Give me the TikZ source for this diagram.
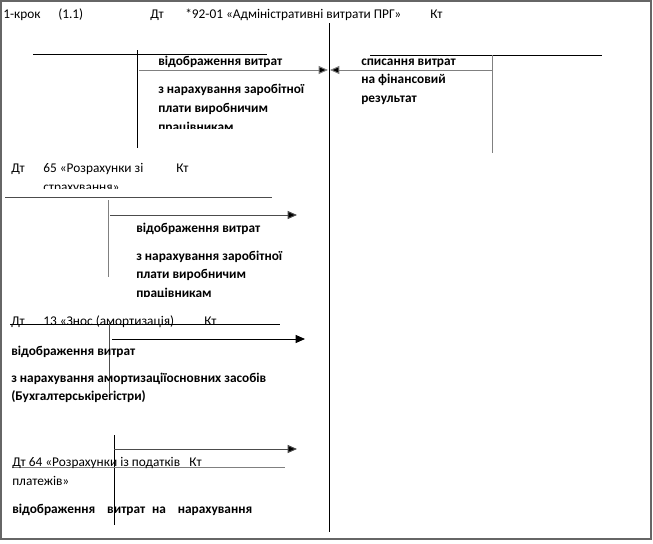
\documentclass[tikz,border=0pt]{standalone}
\usepackage{fontspec}
\setmainfont{Carlito}
\usetikzlibrary{arrows.meta}
\begin{document}
\begin{tikzpicture}[x=0.75pt,y=-0.75pt,
  txt/.style={anchor=base west,inner sep=0pt,font=\fontsize{10}{12}\selectfont},
  bold txt/.style={txt,font=\fontsize{10}{12}\selectfont\bfseries},
  acc line/.style={line width=0.75pt},
  grey line/.style={line width=0.75pt,draw=gray},
  flow/.style={line width=0.75pt,-{Triangle[length=7pt,width=6pt,fill=black]}}]
  \useasboundingbox (0,0) rectangle (653,543);
  \draw[gray!80!black,line width=1.5pt] (1,1) rectangle (651,539);

  % heading of account 92
  \node[txt] (step) at (3,18) {1-крок};
  \node[txt] (num) at (58,18) {(1.1)};
  \node[txt] (dt92) at (150,18) {Дт};
  \node[txt] (acc92) at (185,18) {*92-01 «Адміністративні витрати ПРГ»};
  \node[txt] (kt92) at (430,18) {Кт};
  \coordinate (top92) at (329,23);
  \coordinate (bot92) at (329,532);
  \draw[acc line] (top92) -- (bot92);

  % account on the left
  \coordinate (l1) at (33,54);  \coordinate (r1) at (267,54);
  \coordinate (t1) at (137,50); \coordinate (b1) at (137,148);
  \coordinate (a1) at (139,70); \coordinate (e1) at (328,70);
  \draw[acc line] (l1) -- (r1);
  \draw[acc line] (t1) -- (b1);
  \draw[flow,draw=gray] (a1) -- (e1);
  \node[bold txt] (zp1) at (158,65) {відображення витрат};
  \node[bold txt] (zp2) at (158,93) {з нарахування заробітної};
  \node[bold txt] (zp3) at (158,112) {плати виробничим};
  \begin{scope}
    \clip (150,115) rectangle (320,128);
    \node[bold txt] (zp4) at (158,131) {працівникам};
  \end{scope}

  % account on the right
  \coordinate (l2) at (370,55); \coordinate (r2) at (602,55);
  \coordinate (t2) at (492,55); \coordinate (b2) at (492,153);
  \coordinate (a2) at (493,70); \coordinate (e2) at (330,70);
  \draw[acc line] (l2) -- (r2);
  \draw[grey line] (t2) -- (b2);
  \draw[flow,draw=gray] (a2) -- (e2);
  \node[bold txt] (fr1) at (361,65) {списання витрат};
  \node[bold txt] (fr2) at (361,83) {на фінансовий};
  \node[bold txt] (fr3) at (361,102) {результат};

  % account 65
  \node[txt] (dt65) at (11,172) {Дт};
  \node[txt] (acc65) at (43,172) {65 «Розрахунки зі};
  \node[txt] (kt65) at (176,172) {Кт};
  \begin{scope}
    \clip (30,178) rectangle (200,188);
    \node[txt] (acc65b) at (43,191) {страхування»};
  \end{scope}
  \coordinate (l3) at (5,197);   \coordinate (r3) at (272,197);
  \coordinate (t3) at (108,200); \coordinate (b3) at (108,277);
  \coordinate (a3) at (110,215); \coordinate (e3) at (297,215);
  \draw[acc line,draw=gray!60!black] (l3) -- (r3);
  \draw[grey line] (t3) -- (b3);
  \draw[flow,draw=gray!60!black] (a3) -- (e3);
  \node[bold txt] (sz1) at (136,232) {відображення витрат};
  \node[bold txt] (sz2) at (136,260) {з нарахування заробітної};
  \node[bold txt] (sz3) at (136,278) {плати виробничим};
  \begin{scope}
    \clip (130,282) rectangle (300,296);
    \node[bold txt] (sz4) at (136,297) {працівникам};
  \end{scope}

  % account 13
  \node[txt] (dt13) at (11,325) {Дт};
  \node[txt] (acc13) at (43,325) {13 «Знос (амортизація)};
  \node[txt] (kt13) at (204,325) {Кт};
  \coordinate (l4) at (10,324);  \coordinate (r4) at (280,324);
  \coordinate (t4) at (109,323); \coordinate (b4) at (109,393);
  \coordinate (a4) at (112,339); \coordinate (e4) at (305,339);
  \draw[acc line] (l4) -- (r4);
  \draw[acc line,draw=gray!60!black] (t4) -- (b4);
  \draw[flow] (a4) -- (e4);
  \node[bold txt] (am1) at (11,355) {відображення витрат};
  \node[bold txt] (am2) at (11,382) {з нарахування амортизаціїосновних засобів};
  \node[bold txt] (am3) at (11,400) {(Бухгалтерськірегістри)};

  % account 64
  \coordinate (t5) at (114,435); \coordinate (b5) at (114,525);
  \coordinate (a5) at (114,449); \coordinate (e5) at (297,449);
  \coordinate (l5) at (12,467);  \coordinate (r5) at (285,467);
  \draw[acc line] (t5) -- (b5);
  \draw[flow,draw=gray!60!black] (a5) -- (e5);
  \draw[grey line] (l5) -- (r5);
  \node[txt] (acc64) at (12,466) {Дт 64 «Розрахунки із податків\hspace{7pt}Кт};
  \node[txt] (acc64b) at (12,485) {платежів»};
  \node[bold txt] (pd1) at (12,513) {відображення\hspace{9pt}витрат\hspace{5pt}на\hspace{9pt}нарахування};
\end{tikzpicture}
\end{document}
